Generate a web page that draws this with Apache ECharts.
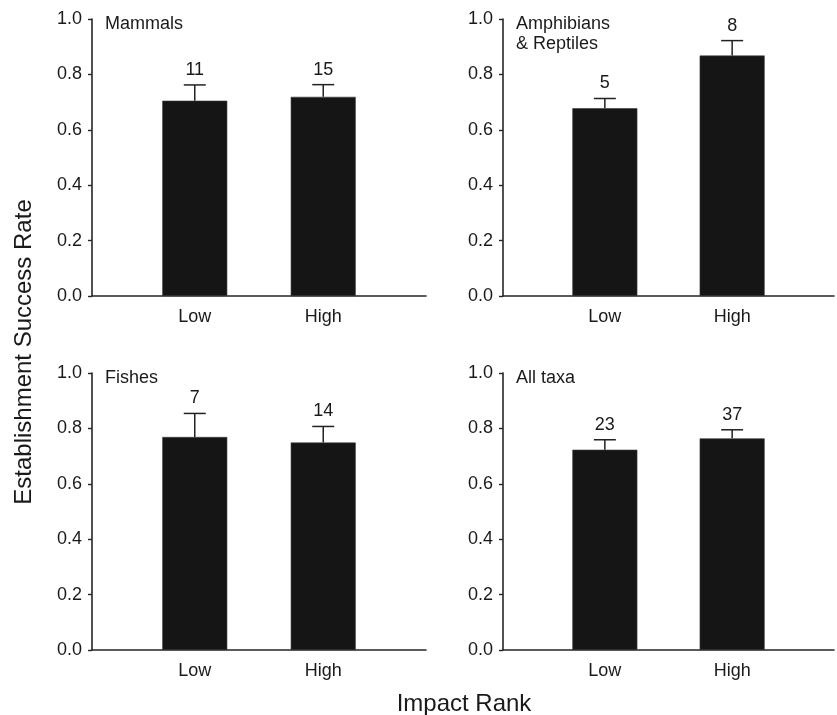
<!DOCTYPE html>
<html>
<head>
<meta charset="utf-8">
<script src="https://cdn.jsdelivr.net/npm/echarts@6/dist/echarts.min.js"></script>
<style>
html,body{margin:0;padding:0;background:#fff;}
#chart{width:837px;height:715px;}
</style>
</head>
<body>
<div id="chart"></div>
<script>
// ---- data ----
const categories = ['Low', 'High'];
const panelNames = ['Mammals', 'Amphibians\n& Reptiles', 'Fishes', 'All taxa'];
const mammalsMean = [0.705, 0.719];
const mammalsSE = [0.057, 0.044];
const mammalsN = [11, 15];
const amphMean = [0.678, 0.868];
const amphSE = [0.035, 0.054];
const amphN = [5, 8];
const fishMean = [0.769, 0.749];
const fishSE = [0.085, 0.058];
const fishN = [7, 14];
const allMean = [0.723, 0.764];
const allSE = [0.036, 0.031];
const allN = [23, 37];
const yTicks = [0, 0.2, 0.4, 0.6, 0.8, 1.0];
const yTitle = 'Establishment Success Rate';
const xTitle = 'Impact Rank';

const panels = [
  {mean: mammalsMean, se: mammalsSE, n: mammalsN},
  {mean: amphMean, se: amphSE, n: amphN},
  {mean: fishMean, se: fishSE, n: fishN},
  {mean: allMean, se: allSE, n: allN}
];

// ---- layout ----
const FONT = '"Liberation Sans", Arial, Helvetica, sans-serif';
const INK = '#1a1a1a';
const grids = [
  {left: 92, top: 19, width: 334, height: 277},
  {left: 503, top: 19, width: 334, height: 277},
  {left: 92, top: 373, width: 334, height: 277},
  {left: 503, top: 373, width: 334, height: 277}
];

const xAxes = [], yAxes = [], series = [], titles = [];
panels.forEach((p, i) => {
  xAxes.push({
    type: 'value', gridIndex: i, min: -0.8, max: 1.8, interval: 0.2,
    axisLine: {show: true, onZero: false, lineStyle: {color: '#262626', width: 1.6}},
    axisTick: {show: false},
    splitLine: {show: false},
    axisLabel: {
      margin: 12, color: INK, fontSize: 18, fontFamily: FONT,
      formatter: function (v) {
        const r = Math.round(v);
        if (Math.abs(v - r) < 1e-6 && r >= 0 && r < categories.length) return categories[r];
        return '';
      }
    }
  });
  yAxes.push({
    type: 'value', gridIndex: i, min: yTicks[0], max: yTicks[yTicks.length - 1], interval: 0.2,
    axisLine: {show: true, onZero: false, lineStyle: {color: '#262626', width: 1.6}},
    axisTick: {show: true, length: 4, lineStyle: {color: '#262626', width: 1.4}},
    splitLine: {show: false},
    axisLabel: {
      margin: 10, color: INK, fontSize: 18, fontFamily: FONT,
      formatter: v => v.toFixed(1)
    }
  });
  series.push({
    type: 'bar', xAxisIndex: i, yAxisIndex: i,
    barWidth: 65,
    itemStyle: {color: '#151515', borderColor: '#3a3a3a', borderWidth: 0.6},
    data: p.mean.map((m, k) => [k, m]),
    silent: true
  });
  series.push({
    type: 'custom', xAxisIndex: i, yAxisIndex: i,
    data: p.mean.map((m, k) => [k, m, m + p.se[k], p.n[k]]),
    renderItem: function (params, api) {
      const base = api.coord([api.value(0), api.value(1)]);
      const top = api.coord([api.value(0), api.value(2)]);
      const hw = 11;
      return {
        type: 'group',
        children: [
          {type: 'line', shape: {x1: base[0], y1: base[1], x2: top[0], y2: top[1]},
           style: {stroke: '#222', lineWidth: 1.5}},
          {type: 'line', shape: {x1: top[0] - hw, y1: top[1], x2: top[0] + hw, y2: top[1]},
           style: {stroke: '#222', lineWidth: 1.5}},
          {type: 'text', x: top[0], y: top[1] - 6,
           style: {text: String(api.value(3)), align: 'center', verticalAlign: 'bottom',
                   fontSize: 18, fontFamily: FONT, fill: INK}}
        ]
      };
    },
    z: 3,
    silent: true
  });
  titles.push({
    text: panelNames[i],
    left: grids[i].left + 13,
    top: grids[i].top - 5,
    padding: 0,
    textStyle: {fontSize: 18, fontWeight: 'normal', fontFamily: FONT, color: INK, lineHeight: 20}
  });
});

const chart = echarts.init(document.getElementById('chart'), null, {renderer: 'canvas'});
chart.setOption({
  backgroundColor: '#fff',
  animation: false,
  title: titles,
  grid: grids,
  xAxis: xAxes,
  yAxis: yAxes,
  series: series,
  graphic: [
    {type: 'text', x: 24, y: 352, rotation: Math.PI / 2,
     style: {text: yTitle, align: 'center', verticalAlign: 'middle', fontSize: 24, fontFamily: FONT, fill: INK}},
    {type: 'text', x: 464, y: 704,
     style: {text: xTitle, align: 'center', verticalAlign: 'middle', fontSize: 24, fontFamily: FONT, fill: INK}}
  ]
});
</script>
</body>
</html>
